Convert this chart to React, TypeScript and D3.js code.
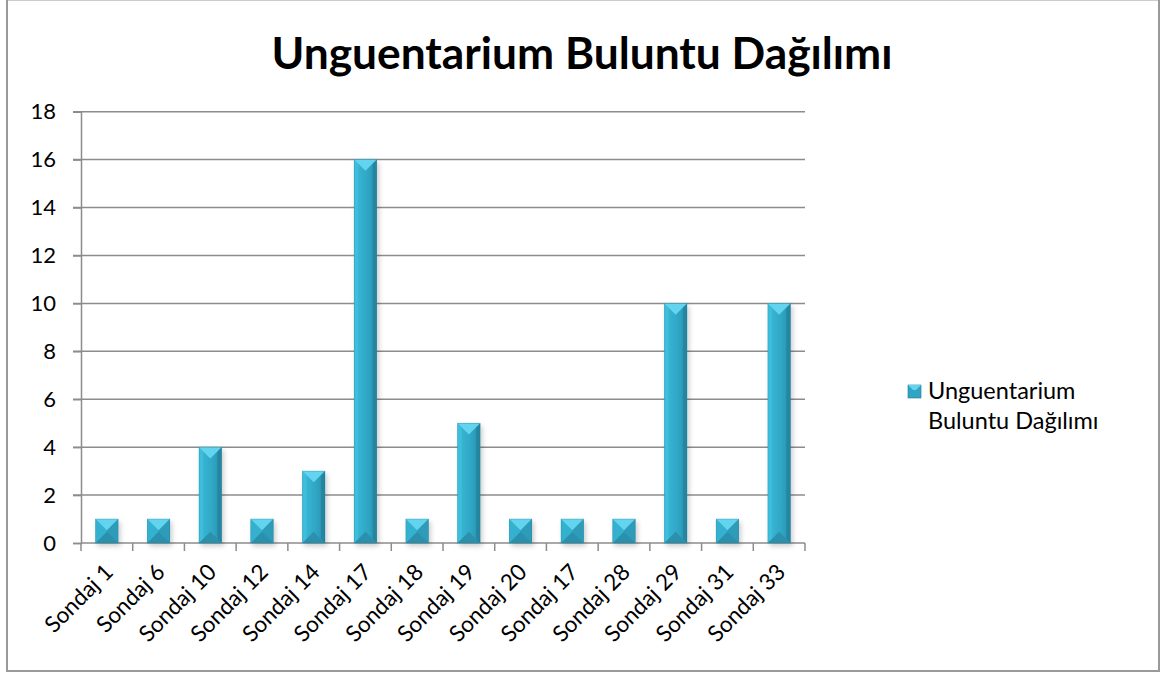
import React, { useEffect, useRef } from 'react';
import * as d3 from 'd3';

const title = 'Unguentarium Buluntu Dağılımı';
const seriesName = ['Unguentarium', 'Buluntu Dağılımı'];
const categories = [
  'Sondaj 1', 'Sondaj 6', 'Sondaj 10', 'Sondaj 12', 'Sondaj 14', 'Sondaj 17', 'Sondaj 18',
  'Sondaj 19', 'Sondaj 20', 'Sondaj 17', 'Sondaj 28', 'Sondaj 29', 'Sondaj 31', 'Sondaj 33',
];
const values = [1, 1, 4, 1, 3, 16, 1, 5, 1, 1, 1, 10, 1, 10];
const yTicks = [0, 2, 4, 6, 8, 10, 12, 14, 16, 18];

const FONT = 'Lato, "Open Sans", sans-serif';

function App() {
  const ref = useRef<SVGSVGElement>(null);

  useEffect(() => {
    const svg = d3.select(ref.current);
    svg.selectAll('*').remove();
    const left = 81, right = 805, top = 111.7, bottom = 543;

    // outer chart border
    svg.append('rect')
      .attr('x', 7).attr('y', -0.5)
      .attr('width', 1152).attr('height', 671.5)
      .attr('fill', '#fff')
      .attr('stroke', '#9a9a9a')
      .attr('stroke-width', 2);

    const defs = svg.append('defs');
    const f = defs.append('filter').attr('id', 'shadow')
      .attr('x', '-30%').attr('y', '-10%').attr('width', '170%').attr('height', '130%');
    f.append('feDropShadow')
      .attr('dx', 2).attr('dy', 3).attr('stdDeviation', 2.5)
      .attr('flood-color', '#000').attr('flood-opacity', 0.2);

    const faceGrad = defs.append('linearGradient').attr('id', 'face')
      .attr('x1', 0).attr('x2', 1).attr('y1', 0).attr('y2', 0);
    faceGrad.append('stop').attr('offset', '0%').attr('stop-color', '#3bbad9');
    faceGrad.append('stop').attr('offset', '60%').attr('stop-color', '#2fa6c4');
    faceGrad.append('stop').attr('offset', '100%').attr('stop-color', '#2891ad');

    const x = d3.scaleBand<number>()
      .domain(d3.range(categories.length))
      .range([left, right])
      .paddingInner(0.565)
      .paddingOuter(0.2825);
    const step = (right - left) / categories.length;

    const y = d3.scaleLinear().domain([0, 18]).range([bottom, top]);

    // gridlines
    svg.append('g').selectAll('line').data(yTicks.filter(t => t > 0)).join('line')
      .attr('x1', left - 8).attr('x2', right)
      .attr('y1', d => y(d)).attr('y2', d => y(d))
      .attr('stroke', '#8c8c8c').attr('stroke-width', 1.5);

    // y axis
    const yAxis = svg.append('g').attr('transform', `translate(${left},0)`)
      .call(d3.axisLeft(y).tickValues(yTicks).tickSize(8).tickPadding(17).tickFormat(d3.format('d')));
    yAxis.select('.domain').attr('stroke', '#8c8c8c').attr('stroke-width', 1.5);
    yAxis.selectAll('.tick line').attr('stroke', '#8c8c8c').attr('stroke-width', 1.5);
    yAxis.selectAll('.tick text')
      .attr('fill', '#000')
      .style('font-family', FONT)
      .style('font-size', '22px');

    // x axis
    svg.append('line')
      .attr('x1', left).attr('x2', right).attr('y1', bottom).attr('y2', bottom)
      .attr('stroke', '#8c8c8c').attr('stroke-width', 1.5);
    svg.append('g').selectAll('line').data(d3.range(categories.length + 1)).join('line')
      .attr('x1', i => left + i * step).attr('x2', i => left + i * step)
      .attr('y1', bottom).attr('y2', bottom + 8)
      .attr('stroke', '#8c8c8c').attr('stroke-width', 1.5);

    svg.append('g').selectAll('text').data(categories).join('text')
      .attr('transform', (d, i) => `translate(${(x(i) as number) + x.bandwidth() / 2 + 2},${bottom + 25}) rotate(-45)`)
      .attr('text-anchor', 'end')
      .attr('dy', '0.35em')
      .style('font-family', FONT)
      .style('font-size', '22.5px')
      .attr('fill', '#000')
      .text(d => d);

    // bevelled bars
    const bars = svg.append('g').attr('filter', 'url(#shadow)');
    values.forEach((v, i) => {
      const x0 = x(i) as number, x1 = x0 + x.bandwidth();
      const y0 = y(v), y1 = y(0);
      const w = x1 - x0, h = y1 - y0;
      const b = Math.min(w / 2, h / 2);
      const s = Math.min(4, b);
      const g = bars.append('g');
      const poly = (pts: number[][], fill: string) =>
        g.append('polygon').attr('points', pts.map(p => p.join(',')).join(' ')).attr('fill', fill);
      g.append('rect').attr('x', x0).attr('y', y0).attr('width', w).attr('height', h).attr('fill', 'url(#face)');
      if (h > w + 2) {
        // tall bar: narrow side bevels
        poly([[x0, y0], [x0 + s, y0 + s], [x0 + s, y1 - s], [x0, y1]], '#3dbedc');
        poly([[x1, y0], [x1 - s, y0 + s], [x1 - s, y1 - s], [x1, y1]], '#2585a0');
      } else {
        poly([[x0, y0], [x0 + b, y0 + b], [x0 + b, y1 - b], [x0, y1]], '#34b1d0');
        poly([[x1, y0], [x1 - b, y0 + b], [x1 - b, y1 - b], [x1, y1]], '#2d9cb9');
      }
      poly([[x0, y1], [x1, y1], [x1 - b, y1 - b], [x0 + b, y1 - b]], '#2a90ac');
      poly([[x0, y0], [x1, y0], [x1 - b, y0 + b], [x0 + b, y0 + b]], '#62d4ef');
      g.append('rect').attr('x', x0).attr('y', y0).attr('width', w).attr('height', h)
        .attr('fill', 'none').attr('stroke', '#1f7a93').attr('stroke-width', 0.6).attr('stroke-opacity', 0.5);
    });

    // title
    svg.append('text')
      .attr('x', 582).attr('y', 69)
      .attr('text-anchor', 'middle')
      .attr('textLength', 621)
      .attr('lengthAdjust', 'spacingAndGlyphs')
      .style('font-family', FONT)
      .style('font-weight', 'bold')
      .style('font-size', '44px')
      .attr('fill', '#000')
      .text(title);

    // legend
    const lg = svg.append('g');
    lg.append('rect').attr('x', 908).attr('y', 385).attr('width', 13).attr('height', 13)
      .attr('fill', '#2fa5c4').attr('stroke', '#1f7a93').attr('stroke-width', 0.6);
    lg.append('polygon').attr('points', '908,385 921,385 916,390 913,390').attr('fill', '#62d4ef');
    lg.selectAll('text.leg').data(seriesName).join('text')
      .attr('class', 'leg')
      .attr('x', 928).attr('y', (d, i) => 399 + i * 30)
      .style('font-family', FONT)
      .style('font-size', '23.5px')
      .attr('fill', '#000')
      .text(d => d);
  }, []);

  return (
    <svg ref={ref} width={1176} height={677}
      style={{ position: 'absolute', left: 0, top: 0, display: 'block' }} />
  );
}

export default App;
